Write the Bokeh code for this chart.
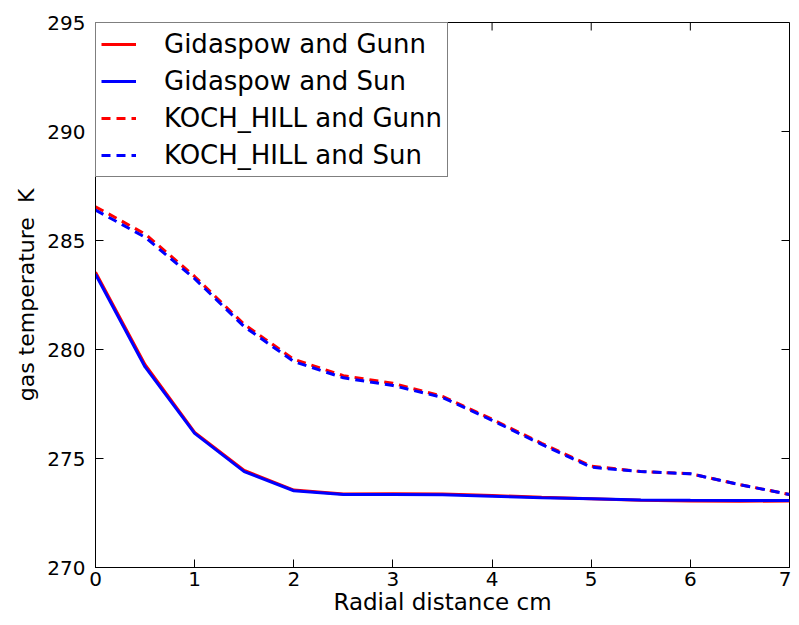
import math
from bokeh.plotting import figure
from bokeh.models import Legend, LegendItem, FixedTicker
from bokeh.embed import file_html
from bokeh.resources import INLINE

# ---- data ----
radial_cm = [0, 0.5, 1, 1.5, 2, 2.5, 3, 3.5, 4, 4.5, 5, 5.5, 6, 6.5, 7]
gidaspow_gunn = [283.55, 279.30, 276.20, 274.45, 273.55, 273.37, 273.38, 273.37, 273.30, 273.22, 273.15, 273.08, 273.05, 273.04, 273.05]
gidaspow_sun = [283.45, 279.20, 276.15, 274.40, 273.52, 273.35, 273.35, 273.34, 273.27, 273.20, 273.15, 273.10, 273.08, 273.07, 273.07]
koch_hill_gunn = [286.55, 285.30, 283.35, 281.15, 279.55, 278.80, 278.45, 277.85, 276.80, 275.70, 274.65, 274.40, 274.30, 273.80, 273.35]
koch_hill_sun = [286.40, 285.15, 283.25, 281.05, 279.45, 278.70, 278.35, 277.80, 276.75, 275.65, 274.60, 274.40, 274.30, 273.80, 273.35]

x_ticks = [0, 1, 2, 3, 4, 5, 6, 7]
y_ticks = [270, 275, 280, 285, 290, 295]
x_lim = (0, 7)
y_lim = (270, 295)
series_labels = ["Gidaspow and Gunn", "Gidaspow and Sun", "KOCH_HILL and Gunn", "KOCH_HILL and Sun"]

FONT = "DejaVu Sans"

p = figure(width=791, height=617, output_backend="svg", toolbar_location=None,
           x_range=x_lim, y_range=y_lim,
           min_border_left=95, min_border_right=2, min_border_top=22, min_border_bottom=48)

p.background_fill_color = "white"
p.border_fill_color = "white"
p.outline_line_color = "black"
p.outline_line_width = 1
p.xgrid.visible = False
p.ygrid.visible = False

r1 = p.line(radial_cm, gidaspow_gunn, line_color="red", line_width=3)
r2 = p.line(radial_cm, gidaspow_sun, line_color="blue", line_width=3)
r3 = p.line(radial_cm, koch_hill_gunn, line_color="red", line_width=3, line_dash="9 6")
r4 = p.line(radial_cm, koch_hill_sun, line_color="blue", line_width=3, line_dash="9 6")

# inward ticks on the top and right frame edges (matplotlib classic style)
p.ray(x=x_ticks, y=[y_lim[1]] * len(x_ticks), length=8, length_units="screen",
      angle=-math.pi / 2, line_color="black", line_width=1)
p.ray(x=[x_lim[1]] * len(y_ticks), y=y_ticks, length=8, length_units="screen",
      angle=math.pi, line_color="black", line_width=1)

xa = p.xaxis[0]
ya = p.yaxis[0]
for ax, ticks in ((xa, x_ticks), (ya, y_ticks)):
    ax.ticker = FixedTicker(ticks=ticks)
    ax.axis_line_color = "black"
    ax.axis_line_width = 1
    ax.major_tick_line_color = "black"
    ax.major_tick_in = 8
    ax.major_tick_out = 0
    ax.minor_tick_line_color = None
    ax.major_label_text_font = FONT
    ax.major_label_text_color = "black"
    ax.major_label_text_font_size = "20px"
    ax.axis_label_text_font = FONT
    ax.axis_label_text_font_style = "normal"
    ax.axis_label_text_color = "black"

xa.major_label_standoff = 4
ya.major_label_standoff = 10
xa.axis_label = "Radial distance cm"
ya.axis_label = "gas temperature \u00a0K"
xa.axis_label_text_font_size = "23px"
ya.axis_label_text_font_size = "22px"
xa.axis_label_standoff = 0
ya.axis_label_standoff = 5

legend = Legend(items=[LegendItem(label=series_labels[0], renderers=[r1]),
                       LegendItem(label=series_labels[1], renderers=[r2]),
                       LegendItem(label=series_labels[2], renderers=[r3]),
                       LegendItem(label=series_labels[3], renderers=[r4])],
                location="top_left")
legend.margin = 0
legend.padding = 5
legend.spacing = 5
legend.glyph_width = 35
legend.glyph_height = 32
legend.label_height = 32
legend.label_standoff = 28
legend.label_text_font = FONT
legend.label_text_font_size = "26px"
legend.label_text_color = "black"
legend.border_line_color = "black"
legend.border_line_width = 1
legend.background_fill_color = "white"
legend.background_fill_alpha = 1
p.add_layout(legend)

open("out.html", "w").write(file_html(p, INLINE))
